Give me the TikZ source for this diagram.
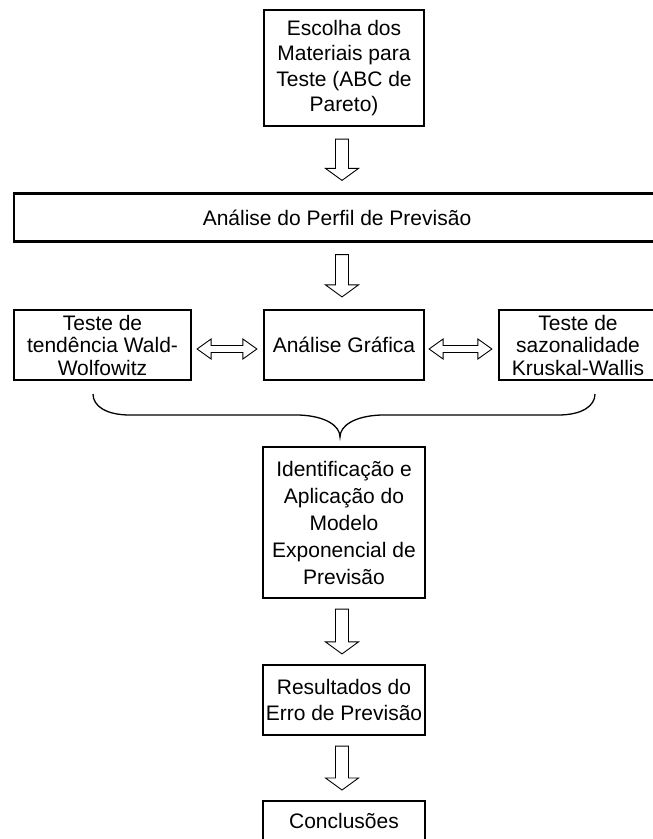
\documentclass[tikz,border=0pt]{standalone}
\usepackage{fontspec}
\setmainfont{Liberation Sans}
\usetikzlibrary{calc}
\tikzset{
  box/.style={draw, line width=2.2pt, align=center, inner sep=0pt,
    font=\fontsize{21}{25.5}\selectfont},
  rowbox/.style={box, minimum height=70pt, font=\fontsize{21}{22.5}\selectfont},
  blk/.style={draw, line width=0.9pt, fill=white, line join=miter},
  bracepath/.style={draw, line width=1.3pt}
}
% block arrow pointing down from #1 to #2
\newcommand\blkdown[2]{%
  \path[blk] let \p1=(#1), \p2=(#2) in
    (\x1-6.5pt,\y1) -- (\x1+6.5pt,\y1) -- (\x1+6.5pt,\y2+12pt) -- (\x1+16.5pt,\y2+12pt)
    -- (\x1,\y2) -- (\x1-16.5pt,\y2+12pt) -- (\x1-6.5pt,\y2+12pt) -- cycle;}
% horizontal double block arrow from #1 to #2
\newcommand\blkboth[2]{%
  \path[blk] let \p1=(#1), \p2=(#2) in
    (\x1,\y1) -- (\x1+14pt,\y1+10pt) -- (\x1+14pt,\y1+3.5pt) -- (\x2-14pt,\y1+3.5pt)
    -- (\x2-14pt,\y1+10pt) -- (\x2,\y1) -- (\x2-14pt,\y1-10pt) -- (\x2-14pt,\y1-3.5pt)
    -- (\x1+14pt,\y1-3.5pt) -- (\x1+14pt,\y1-10pt) -- cycle;}
\begin{document}
\begin{tikzpicture}[x=1pt, y=-1pt]
\path[use as bounding box, fill=white] (0,0) rectangle (653,839);

\node[box, minimum width=160pt, minimum height=116pt] (esc) at (344,68)
  {Escolha dos\\Materiais para\\Teste (ABC de\\Pareto)};
\node[box, minimum width=646pt, minimum height=48pt] (perf) at (337,217.5)
  {Análise do Perfil de Previsão};
\node[rowbox, minimum width=177pt] (wald) at (102.5,345)
  {Teste de\\tendência Wald-\\Wolfowitz};
\node[rowbox, minimum width=160pt] (graf) at (344,345)
  {Análise Gráfica};
\node[rowbox, minimum width=158pt] (krus) at (578,345)
  {Teste de\\sazonalidade\\Kruskal-Wallis};
\node[box, minimum width=162pt, minimum height=151pt,
  font=\fontsize{21}{27}\selectfont] (ident) at (344,522.5)
  {Identificação e\\Aplicação do\\Modelo\\Exponencial de\\Previsão};
\node[box, minimum width=162pt, minimum height=70pt] (res) at (344,700)
  {Resultados do\\Erro de Previsão};
\node[box, anchor=north, minimum width=162pt, inner ysep=6pt,
  text height=21pt, text depth=30pt] (conc) at (344,800) {Conclusões};

% block arrows
\coordinate (a1s) at ($(esc.south)+(-2,12)$);
\coordinate (a1e) at ($(perf.north)+(5,-12)$);
\blkdown{a1s}{a1e}
\coordinate (a2s) at ($(perf.south)+(5,12)$);
\coordinate (a2e) at ($(graf.north)+(-2,-12)$);
\blkdown{a2s}{a2e}
\coordinate (a3s) at ($(ident.south)+(-2,10)$);
\coordinate (a3e) at ($(res.north)+(-2,-10)$);
\blkdown{a3s}{a3e}
\coordinate (a4s) at ($(res.south)+(-2,10)$);
\coordinate (a4e) at ($(conc.north)+(-2,-10)$);
\blkdown{a4s}{a4e}

% double arrows
\coordinate (d1s) at ($(wald.east)+(5,4)$);
\coordinate (d1e) at ($(graf.west)+(-6,4)$);
\blkboth{d1s}{d1e}
\coordinate (d2s) at ($(graf.east)+(4,4)$);
\coordinate (d2e) at ($(krus.west)+(-6,4)$);
\blkboth{d2s}{d2e}

% brace
\coordinate (bl) at (93,394);
\coordinate (bt) at (340,437);
\coordinate (br) at (595,394);
\path[bracepath] (bl) .. controls (93,406) and (106,415) .. (130,415)
  -- (299,415) .. controls (326,416) and (340,426) .. (bt)
  .. controls (340,426) and (354,416) .. (381,415)
  -- (558,415) .. controls (582,415) and (595,406) .. (br);
\end{tikzpicture}
\end{document}
